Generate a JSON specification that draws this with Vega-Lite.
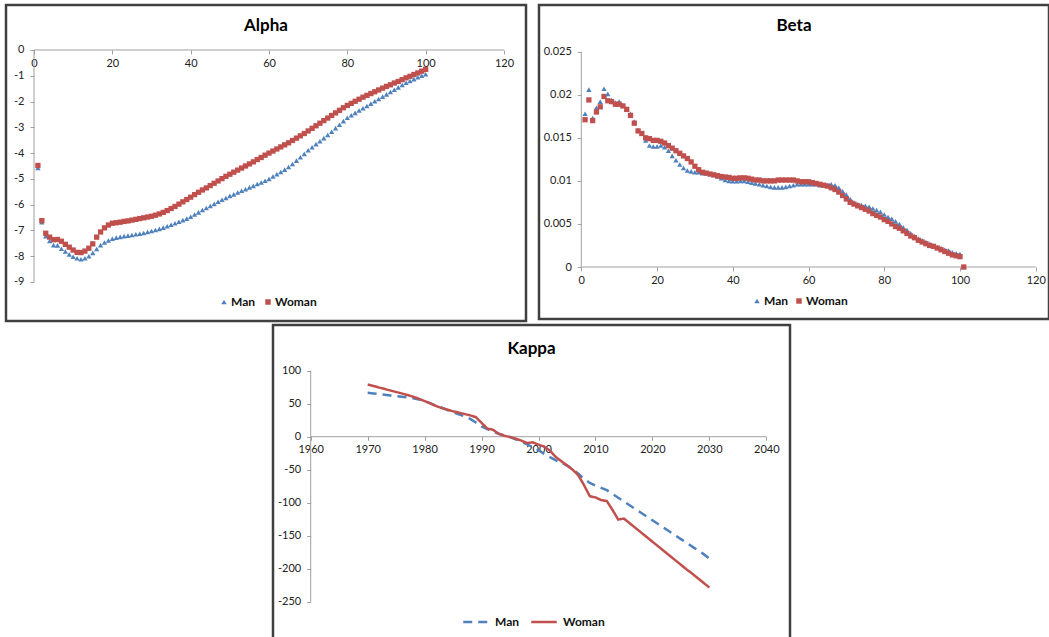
{
  "$schema": "https://vega.github.io/schema/vega-lite/v6.json",
  "padding": {"left": 4, "top": 3, "right": 0, "bottom": 0},
  "background": "white",
  "config": {
    "view": {"stroke": "#404040", "strokeWidth": 2.5},
    "font": "Lato",
    "axis": {"grid": false, "domain": false, "labelFont": "Lato", "labelFontSize": 11, "labelColor": "#222222", "tickColor": "#A0A0A0", "tickSize": 4, "labelPadding": 4, "title": null, "labelFlush": false, "labelOverlap": false, "tickCount": 20},
    "legend": {"labelFont": "Lato", "labelFontSize": 12, "labelFontWeight": "bold", "labelColor": "#111111", "title": null},
    "title": {"font": "Lato", "fontSize": 17, "fontWeight": "bold", "color": "#000000", "anchor": "middle"}
  },
  "datasets": {
    "alpha": [
      {"age":1,"Man":-4.58,"Woman":-4.48},{"age":2,"Man":-6.68,"Woman":-6.62},{"age":3,"Man":-7.22,"Woman":-7.11},{"age":4,"Man":-7.41,"Woman":-7.26},{"age":5,"Man":-7.57,"Woman":-7.36},
      {"age":6,"Man":-7.58,"Woman":-7.35},{"age":7,"Man":-7.71,"Woman":-7.42},{"age":8,"Man":-7.82,"Woman":-7.54},{"age":9,"Man":-7.93,"Woman":-7.65},{"age":10,"Man":-8.02,"Woman":-7.76},
      {"age":11,"Man":-8.08,"Woman":-7.85},{"age":12,"Man":-8.12,"Woman":-7.86},{"age":13,"Man":-8.08,"Woman":-7.8},{"age":14,"Man":-8.0,"Woman":-7.69},{"age":15,"Man":-7.87,"Woman":-7.52},
      {"age":16,"Man":-7.72,"Woman":-7.26},{"age":17,"Man":-7.57,"Woman":-7.06},{"age":18,"Man":-7.47,"Woman":-6.9},{"age":19,"Man":-7.39,"Woman":-6.79},{"age":20,"Man":-7.32,"Woman":-6.72},
      {"age":21,"Man":-7.28,"Woman":-6.7},{"age":22,"Man":-7.25,"Woman":-6.68},{"age":23,"Man":-7.22,"Woman":-6.65},{"age":24,"Man":-7.2,"Woman":-6.63},{"age":25,"Man":-7.18,"Woman":-6.6},
      {"age":26,"Man":-7.15,"Woman":-6.57},{"age":27,"Man":-7.13,"Woman":-6.54},{"age":28,"Man":-7.1,"Woman":-6.51},{"age":29,"Man":-7.06,"Woman":-6.48},{"age":30,"Man":-7.02,"Woman":-6.45},
      {"age":31,"Man":-6.98,"Woman":-6.41},{"age":32,"Man":-6.94,"Woman":-6.36},{"age":33,"Man":-6.89,"Woman":-6.3},{"age":34,"Man":-6.84,"Woman":-6.23},{"age":35,"Man":-6.78,"Woman":-6.15},
      {"age":36,"Man":-6.72,"Woman":-6.07},{"age":37,"Man":-6.66,"Woman":-5.98},{"age":38,"Man":-6.6,"Woman":-5.89},{"age":39,"Man":-6.54,"Woman":-5.8},{"age":40,"Man":-6.47,"Woman":-5.71},
      {"age":41,"Man":-6.38,"Woman":-5.61},{"age":42,"Man":-6.3,"Woman":-5.52},{"age":43,"Man":-6.21,"Woman":-5.43},{"age":44,"Man":-6.13,"Woman":-5.35},{"age":45,"Man":-6.05,"Woman":-5.26},
      {"age":46,"Man":-5.97,"Woman":-5.17},{"age":47,"Man":-5.89,"Woman":-5.08},{"age":48,"Man":-5.81,"Woman":-4.99},{"age":49,"Man":-5.74,"Woman":-4.9},{"age":50,"Man":-5.66,"Woman":-4.82},
      {"age":51,"Man":-5.6,"Woman":-4.74},{"age":52,"Man":-5.53,"Woman":-4.66},{"age":53,"Man":-5.46,"Woman":-4.58},{"age":54,"Man":-5.4,"Woman":-4.5},{"age":55,"Man":-5.33,"Woman":-4.42},
      {"age":56,"Man":-5.27,"Woman":-4.34},{"age":57,"Man":-5.2,"Woman":-4.25},{"age":58,"Man":-5.14,"Woman":-4.17},{"age":59,"Man":-5.07,"Woman":-4.08},{"age":60,"Man":-5.0,"Woman":-4.0},
      {"age":61,"Man":-4.91,"Woman":-3.92},{"age":62,"Man":-4.82,"Woman":-3.84},{"age":63,"Man":-4.73,"Woman":-3.76},{"age":64,"Man":-4.64,"Woman":-3.68},{"age":65,"Man":-4.54,"Woman":-3.6},
      {"age":66,"Man":-4.42,"Woman":-3.51},{"age":67,"Man":-4.29,"Woman":-3.42},{"age":68,"Man":-4.16,"Woman":-3.33},{"age":69,"Man":-4.03,"Woman":-3.24},{"age":70,"Man":-3.89,"Woman":-3.14},
      {"age":71,"Man":-3.77,"Woman":-3.04},{"age":72,"Man":-3.65,"Woman":-2.94},{"age":73,"Man":-3.54,"Woman":-2.84},{"age":74,"Man":-3.42,"Woman":-2.74},{"age":75,"Man":-3.3,"Woman":-2.64},
      {"age":76,"Man":-3.17,"Woman":-2.54},{"age":77,"Man":-3.03,"Woman":-2.44},{"age":78,"Man":-2.9,"Woman":-2.34},{"age":79,"Man":-2.76,"Woman":-2.24},{"age":80,"Man":-2.63,"Woman":-2.15},
      {"age":81,"Man":-2.53,"Woman":-2.07},{"age":82,"Man":-2.44,"Woman":-1.99},{"age":83,"Man":-2.35,"Woman":-1.91},{"age":84,"Man":-2.26,"Woman":-1.83},{"age":85,"Man":-2.17,"Woman":-1.76},
      {"age":86,"Man":-2.08,"Woman":-1.69},{"age":87,"Man":-1.99,"Woman":-1.62},{"age":88,"Man":-1.9,"Woman":-1.55},{"age":89,"Man":-1.81,"Woman":-1.48},{"age":90,"Man":-1.72,"Woman":-1.41},
      {"age":91,"Man":-1.63,"Woman":-1.35},{"age":92,"Man":-1.54,"Woman":-1.28},{"age":93,"Man":-1.45,"Woman":-1.22},{"age":94,"Man":-1.36,"Woman":-1.15},{"age":95,"Man":-1.27,"Woman":-1.08},
      {"age":96,"Man":-1.2,"Woman":-1.02},{"age":97,"Man":-1.13,"Woman":-0.95},{"age":98,"Man":-1.06,"Woman":-0.89},{"age":99,"Man":-1.0,"Woman":-0.82},{"age":100,"Man":-0.94,"Woman":-0.75}
    ],
    "beta": [
      {"age":1,"Man":0.0178,"Woman":0.0171},{"age":2,"Man":0.0206,"Woman":0.0194},{"age":3,"Man":0.0173,"Woman":0.0170},{"age":4,"Man":0.0185,"Woman":0.0180},{"age":5,"Man":0.0192,"Woman":0.0186},
      {"age":6,"Man":0.0207,"Woman":0.0198},{"age":7,"Man":0.0201,"Woman":0.0193},{"age":8,"Man":0.0194,"Woman":0.0192},{"age":9,"Man":0.0191,"Woman":0.0189},{"age":10,"Man":0.0192,"Woman":0.0189},
      {"age":11,"Man":0.0188,"Woman":0.0187},{"age":12,"Man":0.0184,"Woman":0.0183},{"age":13,"Man":0.0178,"Woman":0.0176},{"age":14,"Man":0.0169,"Woman":0.0167},{"age":15,"Man":0.0159,"Woman":0.0158},
      {"age":16,"Man":0.0155,"Woman":0.0155},{"age":17,"Man":0.0147,"Woman":0.0150},{"age":18,"Man":0.0141,"Woman":0.0149},{"age":19,"Man":0.0140,"Woman":0.0147},{"age":20,"Man":0.0140,"Woman":0.0147},
      {"age":21,"Man":0.0141,"Woman":0.0146},{"age":22,"Man":0.0139,"Woman":0.0144},{"age":23,"Man":0.0135,"Woman":0.0141},{"age":24,"Man":0.0129,"Woman":0.0138},{"age":25,"Man":0.0124,"Woman":0.0135},
      {"age":26,"Man":0.0119,"Woman":0.0132},{"age":27,"Man":0.0115,"Woman":0.0129},{"age":28,"Man":0.0112,"Woman":0.0126},{"age":29,"Man":0.0111,"Woman":0.0122},{"age":30,"Man":0.0110,"Woman":0.0117},
      {"age":31,"Man":0.0110,"Woman":0.0113},{"age":32,"Man":0.0109,"Woman":0.0110},{"age":33,"Man":0.0109,"Woman":0.0109},{"age":34,"Man":0.0108,"Woman":0.0108},{"age":35,"Man":0.0107,"Woman":0.0107},
      {"age":36,"Man":0.0105,"Woman":0.0106},{"age":37,"Man":0.0103,"Woman":0.0105},{"age":38,"Man":0.0101,"Woman":0.01045},{"age":39,"Man":0.0100,"Woman":0.0104},{"age":40,"Man":0.00995,"Woman":0.0103},
      {"age":41,"Man":0.00995,"Woman":0.0103},{"age":42,"Man":0.0100,"Woman":0.01035},{"age":43,"Man":0.0100,"Woman":0.01035},{"age":44,"Man":0.0099,"Woman":0.0103},{"age":45,"Man":0.0098,"Woman":0.0102},
      {"age":46,"Man":0.0097,"Woman":0.0101},{"age":47,"Man":0.0096,"Woman":0.0101},{"age":48,"Man":0.0095,"Woman":0.0100},{"age":49,"Man":0.0094,"Woman":0.0100},{"age":50,"Man":0.0093,"Woman":0.0100},
      {"age":51,"Man":0.00925,"Woman":0.0100},{"age":52,"Man":0.00925,"Woman":0.0101},{"age":53,"Man":0.00925,"Woman":0.0101},{"age":54,"Man":0.0093,"Woman":0.0101},{"age":55,"Man":0.0094,"Woman":0.0101},
      {"age":56,"Man":0.0095,"Woman":0.0101},{"age":57,"Man":0.0096,"Woman":0.0100},{"age":58,"Man":0.0096,"Woman":0.0099},{"age":59,"Man":0.0096,"Woman":0.0099},{"age":60,"Man":0.0096,"Woman":0.0099},
      {"age":61,"Man":0.0096,"Woman":0.0098},{"age":62,"Man":0.0096,"Woman":0.0097},{"age":63,"Man":0.0095,"Woman":0.0096},{"age":64,"Man":0.0095,"Woman":0.0095},{"age":65,"Man":0.0095,"Woman":0.0094},
      {"age":66,"Man":0.0096,"Woman":0.0092},{"age":67,"Man":0.0095,"Woman":0.0090},{"age":68,"Man":0.0092,"Woman":0.0087},{"age":69,"Man":0.0088,"Woman":0.0083},{"age":70,"Man":0.0084,"Woman":0.0079},
      {"age":71,"Man":0.0079,"Woman":0.0075},{"age":72,"Man":0.0075,"Woman":0.0073},{"age":73,"Man":0.0073,"Woman":0.0071},{"age":74,"Man":0.0072,"Woman":0.0069},{"age":75,"Man":0.0071,"Woman":0.0067},
      {"age":76,"Man":0.0070,"Woman":0.0065},{"age":77,"Man":0.0068,"Woman":0.0062},{"age":78,"Man":0.0066,"Woman":0.0060},{"age":79,"Man":0.0064,"Woman":0.0058},{"age":80,"Man":0.0061,"Woman":0.0055},
      {"age":81,"Man":0.0058,"Woman":0.0053},{"age":82,"Man":0.0056,"Woman":0.0050},{"age":83,"Man":0.0053,"Woman":0.0047},{"age":84,"Man":0.0050,"Woman":0.0045},{"age":85,"Man":0.0046,"Woman":0.0042},
      {"age":86,"Man":0.0043,"Woman":0.0039},{"age":87,"Man":0.0039,"Woman":0.0036},{"age":88,"Man":0.0036,"Woman":0.0034},{"age":89,"Man":0.0033,"Woman":0.0031},{"age":90,"Man":0.0031,"Woman":0.0029},
      {"age":91,"Man":0.0029,"Woman":0.0027},{"age":92,"Man":0.0027,"Woman":0.0025},{"age":93,"Man":0.0025,"Woman":0.0024},{"age":94,"Man":0.0023,"Woman":0.0022},{"age":95,"Man":0.0022,"Woman":0.0020},
      {"age":96,"Man":0.0020,"Woman":0.0018},{"age":97,"Man":0.0019,"Woman":0.0016},{"age":98,"Man":0.0017,"Woman":0.0014},{"age":99,"Man":0.0016,"Woman":0.0013},{"age":100,"Man":0.0015,"Woman":0.0012},
      {"age":101,"Man":0,"Woman":0}
    ],
    "kappa": [
      {"year":1970,"Man":66.5,"Woman":79},{"year":1971,"Man":65.5,"Woman":76.8},{"year":1972,"Man":64.5,"Woman":74.5},{"year":1973,"Man":63.5,"Woman":72.3},{"year":1974,"Man":62.5,"Woman":70},
      {"year":1975,"Man":61.5,"Woman":67.8},{"year":1976,"Man":60.5,"Woman":65.5},{"year":1977,"Man":59.5,"Woman":63.2},{"year":1978,"Man":58.3,"Woman":60.5},{"year":1979,"Man":56.5,"Woman":57.5},
      {"year":1980,"Man":54,"Woman":54},{"year":1981,"Man":50.5,"Woman":50.5},{"year":1982,"Man":47,"Woman":46.5},{"year":1983,"Man":44,"Woman":43.5},{"year":1984,"Man":40.5,"Woman":41},
      {"year":1985,"Man":37,"Woman":38.5},{"year":1986,"Man":34,"Woman":36.5},{"year":1987,"Man":31,"Woman":34.5},{"year":1988,"Man":27,"Woman":32.3},{"year":1989,"Man":21.5,"Woman":29.7},
      {"year":1990,"Man":15.5,"Woman":21},{"year":1991,"Man":11.5,"Woman":12.5},{"year":1992,"Man":8,"Woman":10.5},{"year":1993,"Man":4.5,"Woman":4.5},{"year":1994,"Man":2,"Woman":1.5},
      {"year":1995,"Man":-0.5,"Woman":-0.5},{"year":1996,"Man":-4,"Woman":-3},{"year":1997,"Man":-7.5,"Woman":-6},{"year":1998,"Man":-11.5,"Woman":-9.5},{"year":1999,"Man":-16,"Woman":-8.5},
      {"year":2000,"Man":-20.5,"Woman":-12},{"year":2001,"Man":-26,"Woman":-15},{"year":2002,"Man":-31,"Woman":-21},{"year":2003,"Man":-35.5,"Woman":-30.5},{"year":2004,"Man":-39.5,"Woman":-37},
      {"year":2005,"Man":-43.5,"Woman":-43.5},{"year":2006,"Man":-49.5,"Woman":-50},{"year":2007,"Man":-56,"Woman":-58.5},{"year":2008,"Man":-64,"Woman":-73.5},{"year":2009,"Man":-70,"Woman":-90},
      {"year":2010,"Man":-74,"Woman":-92},{"year":2011,"Man":-77.5,"Woman":-96},{"year":2012,"Man":-81,"Woman":-97.5},{"year":2013,"Man":-86.7,"Woman":-111},{"year":2014,"Man":-92.4,"Woman":-125.5},
      {"year":2015,"Man":-98.1,"Woman":-124},{"year":2016,"Man":-103.8,"Woman":-131},{"year":2017,"Man":-109.5,"Woman":-138},{"year":2018,"Man":-115.2,"Woman":-145},{"year":2019,"Man":-120.9,"Woman":-152},
      {"year":2020,"Man":-126.6,"Woman":-159},{"year":2021,"Man":-132.3,"Woman":-166},{"year":2022,"Man":-138,"Woman":-173},{"year":2023,"Man":-143.7,"Woman":-180},{"year":2024,"Man":-149.4,"Woman":-187},
      {"year":2025,"Man":-155.1,"Woman":-194},{"year":2026,"Man":-160.8,"Woman":-201},{"year":2027,"Man":-166.5,"Woman":-207.5},{"year":2028,"Man":-172.2,"Woman":-214.5},{"year":2029,"Man":-177.9,"Woman":-221.5},
      {"year":2030,"Man":-184.5,"Woman":-228.5}
    ],
    "one": [{}],
    "none": []
  },
  "spacing": 0,
  "resolve": {"scale": {"color": "independent", "shape": "independent", "strokeDash": "independent"}, "legend": {"color": "independent", "shape": "independent", "strokeDash": "independent"}},
  "vconcat": [
    {
      "spacing": 9,
      "resolve": {"scale": {"color": "independent", "shape": "independent"}, "legend": {"color": "independent", "shape": "independent"}},
      "hconcat": [
        {
          "width": 520, "height": 316,
          "title": {"text": "Alpha", "offset": -30},
          "layer": [
            {
              "data": {"name": "one"},
              "mark": {"type": "rule", "color": "#A0A0A0", "strokeWidth": 1},
              "encoding": {
                "x": {"datum": 0, "type": "quantitative", "scale": {"domain": [-7.149, 125.617], "nice": false, "zero": false}},
                "y": {"datum": -9, "type": "quantitative", "scale": {"domain": [-10.513, 1.7456], "nice": false, "zero": false}},
                "y2": {"datum": 0}
              }
            },
            {
              "data": {"name": "one"},
              "mark": {"type": "rule", "color": "#A0A0A0", "strokeWidth": 1},
              "encoding": {
                "x": {"datum": 0, "type": "quantitative", "scale": {"domain": [-7.149, 125.617], "nice": false, "zero": false}},
                "x2": {"datum": 120},
                "y": {"datum": 0, "type": "quantitative", "scale": {"domain": [-10.513, 1.7456], "nice": false, "zero": false}}
              }
            },
            {
              "data": {"name": "alpha"},
              "transform": [{"fold": ["Man", "Woman"], "as": ["sex", "v"]}],
              "mark": {"type": "point", "filled": true, "size": 28, "opacity": 1},
              "encoding": {
                "x": {"field": "age", "type": "quantitative", "scale": {"domain": [-7.149, 125.617], "nice": false, "zero": false},
                      "axis": {"orient": "bottom", "offset": -271, "values": [0, 20, 40, 60, 80, 100, 120], "tickCount": 20, "labelExpr": "'' + datum.value", "labelPadding": 3, "labelOverlap": false}},
                "y": {"field": "v", "type": "quantitative", "scale": {"domain": [-10.513, 1.7456], "nice": false, "zero": false},
                      "axis": {"orient": "left", "offset": -28, "values": [-9, -8, -7, -6, -5, -4, -3, -2, -1, 0], "tickCount": 20, "labelExpr": "'' + datum.value", "labelPadding": 6, "labelOverlap": false}},
                "color": {"field": "sex", "type": "nominal", "scale": {"domain": ["Man", "Woman"], "range": ["#4F81BD", "#C0504D"]},
                          "legend": {"orient": "none", "legendX": 212, "legendY": 291, "direction": "horizontal", "symbolSize": 30, "columnPadding": 6, "labelOffset": 1}},
                "shape": {"field": "sex", "type": "nominal", "scale": {"domain": ["Man", "Woman"], "range": ["triangle-up", "square"]},
                          "legend": {"orient": "none", "legendX": 212, "legendY": 291, "direction": "horizontal", "symbolSize": 30, "columnPadding": 6, "labelOffset": 1}}
              }
            }
          ]
        },
        {
          "width": 510, "height": 314,
          "title": {"text": "Beta", "offset": -30},
          "layer": [
            {
              "data": {"name": "one"},
              "mark": {"type": "rule", "color": "#A0A0A0", "strokeWidth": 1},
              "encoding": {
                "x": {"datum": 0, "type": "quantitative", "scale": {"domain": [-11.17, 123.51], "nice": false, "zero": false}},
                "y": {"datum": 0, "type": "quantitative", "scale": {"domain": [-0.006038, 0.030423], "nice": false, "zero": false}},
                "y2": {"datum": 0.025}
              }
            },
            {
              "data": {"name": "one"},
              "mark": {"type": "rule", "color": "#A0A0A0", "strokeWidth": 1},
              "encoding": {
                "x": {"datum": 0, "type": "quantitative", "scale": {"domain": [-11.17, 123.51], "nice": false, "zero": false}},
                "x2": {"datum": 120},
                "y": {"datum": 0, "type": "quantitative", "scale": {"domain": [-0.006038, 0.030423], "nice": false, "zero": false}}
              }
            },
            {
              "data": {"name": "beta"},
              "transform": [{"fold": ["Man", "Woman"], "as": ["sex", "v"]}],
              "mark": {"type": "point", "filled": true, "size": 28, "opacity": 1},
              "encoding": {
                "x": {"field": "age", "type": "quantitative", "scale": {"domain": [-11.17, 123.51], "nice": false, "zero": false},
                      "axis": {"orient": "bottom", "offset": -52, "values": [0, 20, 40, 60, 80, 100, 120], "tickCount": 20, "labelExpr": "'' + datum.value", "labelPadding": 3, "labelOverlap": false}},
                "y": {"field": "v", "type": "quantitative", "scale": {"domain": [-0.006038, 0.030423], "nice": false, "zero": false},
                      "axis": {"orient": "left", "offset": -42.3, "values": [0, 0.005, 0.01, 0.015, 0.02, 0.025], "tickCount": 20, "labelExpr": "'' + datum.value", "labelPadding": 6, "labelOverlap": false}},
                "color": {"field": "sex", "type": "nominal", "scale": {"domain": ["Man", "Woman"], "range": ["#4F81BD", "#C0504D"]},
                          "legend": {"orient": "none", "legendX": 212, "legendY": 290, "direction": "horizontal", "symbolSize": 30, "columnPadding": 4, "labelOffset": 1}},
                "shape": {"field": "sex", "type": "nominal", "scale": {"domain": ["Man", "Woman"], "range": ["triangle-up", "square"]},
                          "legend": {"orient": "none", "legendX": 212, "legendY": 290, "direction": "horizontal", "symbolSize": 30, "columnPadding": 4, "labelOffset": 1}}
              }
            }
          ]
        }
      ]
    },
    {
      "spacing": 0,
      "resolve": {"scale": {"color": "independent", "strokeDash": "independent"}, "legend": {"color": "independent", "strokeDash": "independent"}},
      "hconcat": [
        {
          "width": 265, "height": 1,
          "view": {"stroke": null},
          "data": {"name": "none"},
          "mark": {"type": "point", "opacity": 0}
        },
        {
          "width": 517, "height": 316,
          "title": {"text": "Kappa", "offset": -33},
          "layer": [
            {
              "data": {"name": "one"},
              "mark": {"type": "rule", "color": "#A0A0A0", "strokeWidth": 1},
              "encoding": {
                "x": {"datum": 1960, "type": "quantitative", "scale": {"domain": [1953.38, 2044.16], "nice": false, "zero": false}},
                "y": {"datum": -250, "type": "quantitative", "scale": {"domain": [-309.5, 169.24], "nice": false, "zero": false}},
                "y2": {"datum": 100}
              }
            },
            {
              "data": {"name": "one"},
              "mark": {"type": "rule", "color": "#A0A0A0", "strokeWidth": 1},
              "encoding": {
                "x": {"datum": 1960, "type": "quantitative", "scale": {"domain": [1953.38, 2044.16], "nice": false, "zero": false}},
                "x2": {"datum": 2040},
                "y": {"datum": 0, "type": "quantitative", "scale": {"domain": [-309.5, 169.24], "nice": false, "zero": false}}
              }
            },
            {
              "data": {"name": "kappa"},
              "transform": [{"fold": ["Man", "Woman"], "as": ["sex", "v"]}],
              "mark": {"type": "line", "strokeWidth": 2.5},
              "encoding": {
                "x": {"field": "year", "type": "quantitative", "scale": {"domain": [1953.38, 2044.16], "nice": false, "zero": false},
                      "axis": {"orient": "bottom", "offset": -204.7, "values": [1960, 1970, 1980, 1990, 2000, 2010, 2020, 2030, 2040], "tickCount": 20, "labelExpr": "'' + datum.value", "labelPadding": 3, "labelOverlap": false}},
                "y": {"field": "v", "type": "quantitative", "scale": {"domain": [-309.5, 169.24], "nice": false, "zero": false},
                      "axis": {"orient": "left", "offset": -37.7, "values": [-250, -200, -150, -100, -50, 0, 50, 100], "tickCount": 20, "labelExpr": "'' + datum.value", "labelPadding": 6, "labelOverlap": false}},
                "color": {"field": "sex", "type": "nominal", "scale": {"domain": ["Man", "Woman"], "range": ["#4F81BD", "#C0504D"]},
                          "legend": {"orient": "none", "legendX": 189, "legendY": 283, "direction": "horizontal", "symbolType": "stroke", "symbolSize": 650, "symbolStrokeWidth": 2.5, "columnPadding": 6, "labelOffset": 5,
                                     "encode": {"symbols": {"update": {"strokeDash": {"signal": "datum.value === 'Man' ? [9, 6] : [1, 0]"}}}}}},
                "strokeDash": {"field": "sex", "type": "nominal", "scale": {"domain": ["Man", "Woman"], "range": [[9, 6], [1, 0]]}, "legend": null}
              }
            }
          ]
        }
      ]
    }
  ]
}
